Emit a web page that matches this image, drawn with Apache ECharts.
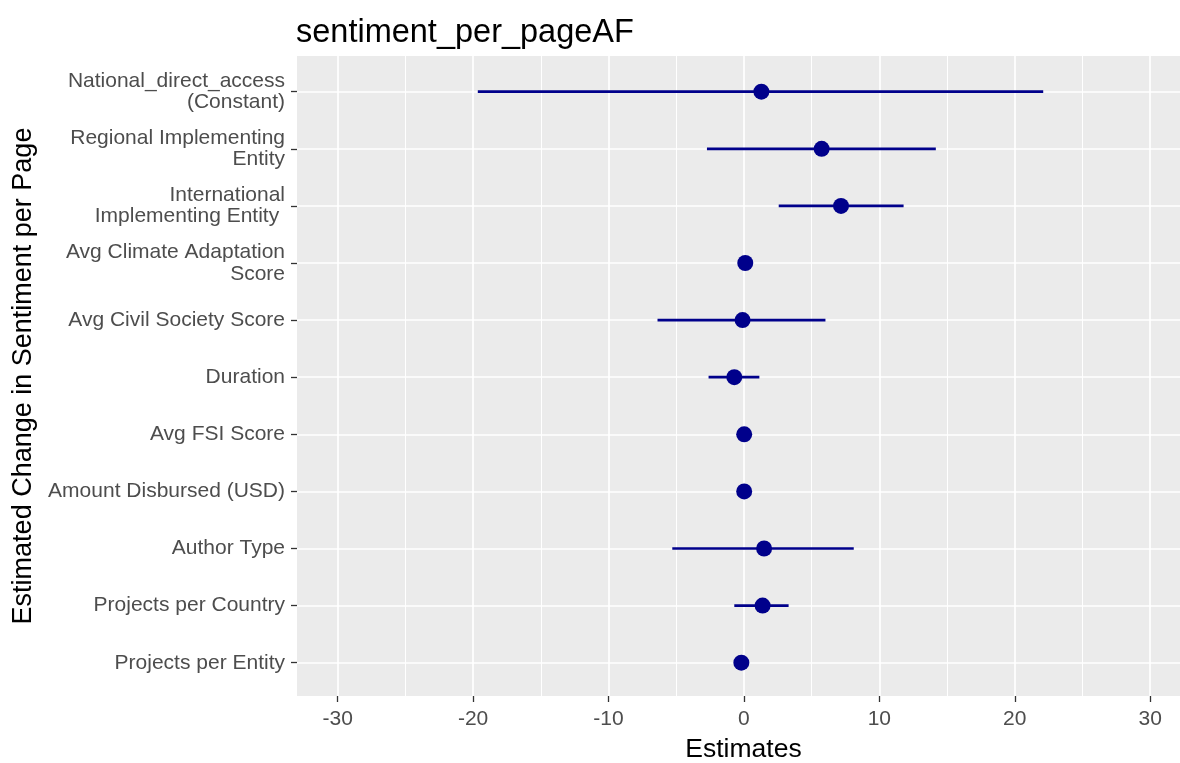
<!DOCTYPE html>
<html>
<head>
<meta charset="utf-8">
<script src="https://cdn.jsdelivr.net/npm/echarts@6/dist/echarts.min.js"></script>
<style>
html,body{margin:0;padding:0;background:#fff;}
#chart{width:1180px;height:763px;}
</style>
</head>
<body>
<div id="chart"></div>
<script>
// ---- data ----
const categories = [
  "National_direct_access\n(Constant)",
  "Regional Implementing\nEntity",
  "International\nImplementing Entity ",
  "Avg Climate Adaptation\nScore",
  "Avg Civil Society Score",
  "Duration",
  "Avg FSI Score",
  "Amount Disbursed (USD)",
  "Author Type",
  "Projects per Country",
  "Projects per Entity"
];
const estimates = [1.29, 5.74, 7.17, 0.10, -0.10, -0.71, 0.02, 0.02, 1.49, 1.38, -0.19];
const lower     = [-19.65, -2.73, 2.57, 0.00, -6.38, -2.61, -0.05, -0.05, -5.29, -0.71, -0.25];
const upper     = [22.10, 14.17, 11.79, 0.20, 6.02, 1.14, 0.09, 0.09, 8.11, 3.30, -0.13];
const xTicks = [-30, -20, -10, 0, 10, 20, 30];
const xMinorTicks = [-25, -15, -5, 5, 15, 25];
const yTicks = [0, 1, 2, 3, 4, 5, 6, 7, 8, 9, 10];

const pointData = estimates.map((v, i) => [v, i]);
const barData = estimates.map((v, i) => [lower[i], upper[i], i]);

const chart = echarts.init(document.getElementById('chart'));
const font = '"Liberation Sans", Arial, sans-serif';
chart.setOption({
  animation: false,
  backgroundColor: '#ffffff',
  title: {
    text: 'sentiment_per_pageAF',
    left: 291,
    top: 12,
    textStyle: {fontFamily: font, fontSize: 32.5, fontWeight: 'normal', color: '#000000'}
  },
  grid: {
    left: 297, top: 56, right: 0, height: 640,
    outerBoundsMode: 'none', containLabel: false,
    show: true, backgroundColor: '#EBEBEB', borderWidth: 0
  },
  xAxis: [{
    type: 'value', min: -33, max: 32.2,
    name: 'Estimates', nameLocation: 'middle', nameGap: 40,
    nameTextStyle: {fontFamily: font, fontSize: 26.5, color: '#000000', padding: [0, 0, 0, 10]},
    axisLine: {show: false, onZero: false},
    axisTick: {show: true, customValues: xTicks, length: 6, lineStyle: {color: '#333333', width: 1.3}},
    axisLabel: {customValues: xTicks, fontFamily: font, fontSize: 21, color: '#4D4D4D', margin: 13},
    splitLine: {show: true, lineStyle: {color: '#ffffff', width: 1.7}}
  }, {
    type: 'value', min: -33, max: 32.2, position: 'bottom',
    axisLine: {show: false, onZero: false},
    axisTick: {show: false, customValues: xMinorTicks},
    axisLabel: {show: false, customValues: xMinorTicks},
    splitLine: {show: true, lineStyle: {color: '#ffffff', width: 1}}
  }],
  yAxis: {
    type: 'value', min: -0.625, max: 10.583, inverse: true,
    name: 'Estimated Change in Sentiment per Page', nameLocation: 'middle', nameGap: 254, nameRotate: 90,
    nameTextStyle: {fontFamily: font, fontSize: 27, color: '#000000'},
    axisLine: {show: false, onZero: false},
    axisTick: {show: true, customValues: yTicks, length: 6, lineStyle: {color: '#333333', width: 1.3}},
    axisLabel: {
      customValues: yTicks,
      formatter: v => categories[v] || '',
      fontFamily: font, fontSize: 21, lineHeight: 21.5, color: '#4D4D4D', margin: 12, align: 'right'
    },
    splitLine: {show: true, lineStyle: {color: '#ffffff', width: 1.7}}
  },
  series: [{
    type: 'custom',
    xAxisIndex: 0,
    data: barData,
    encode: {x: [0, 1], y: 2},
    renderItem: function (params, api) {
      const s = api.coord([api.value(0), api.value(2)]);
      const e = api.coord([api.value(1), api.value(2)]);
      return {
        type: 'line',
        shape: {x1: s[0], y1: s[1], x2: e[0], y2: e[1]},
        style: {stroke: '#00008B', lineWidth: 2.7}
      };
    },
    z: 2
  }, {
    type: 'scatter',
    xAxisIndex: 0,
    data: pointData,
    symbol: 'circle',
    symbolSize: 16,
    itemStyle: {color: '#00008B', opacity: 1},
    z: 3
  }]
});
</script>
</body>
</html>
